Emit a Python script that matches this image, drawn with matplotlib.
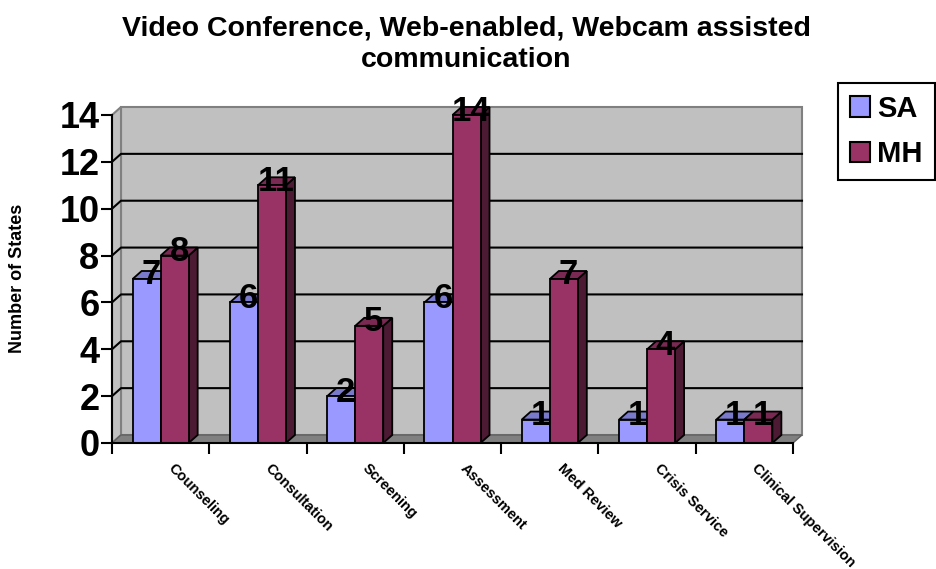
import matplotlib
matplotlib.use("Agg")
import matplotlib.pyplot as plt
from matplotlib.patches import Polygon, Rectangle, Patch

plt.rcParams["font.family"] = ["Liberation Sans", "DejaVu Sans"]

categories = ["Counseling", "Consultation", "Screening", "Assessment",
              "Med Review", "Crisis Service", "Clinical Supervision"]
sa_values = [7, 6, 2, 6, 1, 1, 1]
mh_values = [8, 11, 5, 14, 7, 4, 1]
y_ticks = [0, 2, 4, 6, 8, 10, 12, 14]

W, H = 936, 569
fig = plt.figure(figsize=(W / 100, H / 100), dpi=100)
ax_l, ax_r, ax_t, ax_b = 112, 793, 115, 443
ax = fig.add_axes([ax_l / W, 1 - ax_b / H, (ax_r - ax_l) / W, (ax_b - ax_t) / H])
n = len(categories)
ymax = 14
ax.set_xlim(0, n)
ax.set_ylim(0, ymax)
ax.set_facecolor("none")

# depth of the pseudo-3D look, in data units (about 9 px x 8 px)
px_x = (ax_r - ax_l) / n
px_y = (ax_b - ax_t) / ymax
ddx = 9 / px_x
ddy = 8 / px_y

wall = "#C0C0C0"
# back wall, side wall and floor
ax.add_patch(Polygon([(ddx, ddy), (n + ddx, ddy), (n + ddx, ymax + ddy), (ddx, ymax + ddy)],
                     closed=True, facecolor=wall, edgecolor="#808080", lw=1.5,
                     clip_on=False, zorder=0))
ax.add_patch(Polygon([(0, 0), (ddx, ddy), (ddx, ymax + ddy), (0, ymax)],
                     closed=True, facecolor=wall, edgecolor="#808080", lw=1.5,
                     clip_on=False, zorder=0))
ax.add_patch(Polygon([(0, 0), (n, 0), (n + ddx, ddy), (ddx, ddy)],
                     closed=True, facecolor="#808080", edgecolor="#606060", lw=1,
                     clip_on=False, zorder=0.5))
for v in y_ticks[1:-1]:
    ax.plot([0, ddx, n + ddx], [v, v + ddy, v + ddy], color="black", lw=1.5,
            clip_on=False, zorder=0.6)

bw = 0.288
series = [
    (sa_values, -bw, "#9999FF", "#6B6BB3", "#7A7ACC"),
    (mh_values, 0.0, "#993366", "#4D1A33", "#7A2952"),
]
for i in range(n):
    for vals, off, front, side, top in series:
        v = vals[i]
        x0 = i + 0.5 + off
        x1 = x0 + bw
        ax.add_patch(Polygon([(x1, 0), (x1 + ddx, ddy), (x1 + ddx, v + ddy), (x1, v)],
                             closed=True, facecolor=side, edgecolor="black", lw=1.3,
                             clip_on=False, zorder=2))
        ax.add_patch(Polygon([(x0, v), (x1, v), (x1 + ddx, v + ddy), (x0 + ddx, v + ddy)],
                             closed=True, facecolor=top, edgecolor="black", lw=1.3,
                             clip_on=False, zorder=2))
        ax.add_patch(Rectangle((x0, 0), bw, v, facecolor=front, edgecolor="black",
                               lw=1.3, clip_on=False, zorder=2))
for i in range(n):
    for vals, off, *_ in series:
        v = vals[i]
        ax.text(i + 0.5 + off + bw / 2 + ddx / 2, v + ddy / 2, str(v),
                ha="center", va="center", fontsize=25, fontweight="bold",
                zorder=5, clip_on=False)

for s in ["top", "right"]:
    ax.spines[s].set_visible(False)
for s in ["left", "bottom"]:
    ax.spines[s].set_color("black")
    ax.spines[s].set_linewidth(1.5)
    ax.spines[s].set_zorder(3)

ax.set_yticks(y_ticks)
ax.set_yticklabels([str(t) for t in y_ticks], fontsize=26, fontweight="bold")
ax.tick_params(axis="y", length=8, width=1.5, direction="out", pad=1)

ax.set_xticks(range(n + 1))
ax.set_xticklabels([])
ax.tick_params(axis="x", which="major", length=8, width=1.5, direction="out")
ax.set_xticks([i + 0.65 for i in range(n)], minor=True)
ax.set_xticklabels(categories, minor=True, rotation=-45, ha="left", va="top",
                   rotation_mode="anchor", fontsize=10.5, fontweight="bold")
ax.tick_params(axis="x", which="minor", length=0, pad=13)

fig.text(18 / W, 1 - 278 / H, "Number of States", rotation=90, ha="center",
         va="center", fontsize=13, fontweight="bold")

fig.text(466 / W, 1 - 15 / H, "Video Conference, Web-enabled, Webcam assisted\ncommunication",
         ha="center", va="top", fontsize=20.5, fontweight="bold", linespacing=1.3)

handles = [Patch(facecolor="#9999FF", edgecolor="black", lw=1.5, label="SA"),
           Patch(facecolor="#993366", edgecolor="black", lw=1.5, label="MH")]
leg = fig.legend(handles=handles, loc="upper left", bbox_to_anchor=(838 / W, 1 - 83 / H),
                 borderaxespad=0, fancybox=False, edgecolor="black",
                 prop={"size": 21, "weight": "bold"}, handlelength=0.7,
                 handleheight=0.7, handletextpad=0.25, labelspacing=0.6,
                 borderpad=0.4, framealpha=1)
leg.get_frame().set_linewidth(1.5)

fig.savefig("out.png", dpi=100)
